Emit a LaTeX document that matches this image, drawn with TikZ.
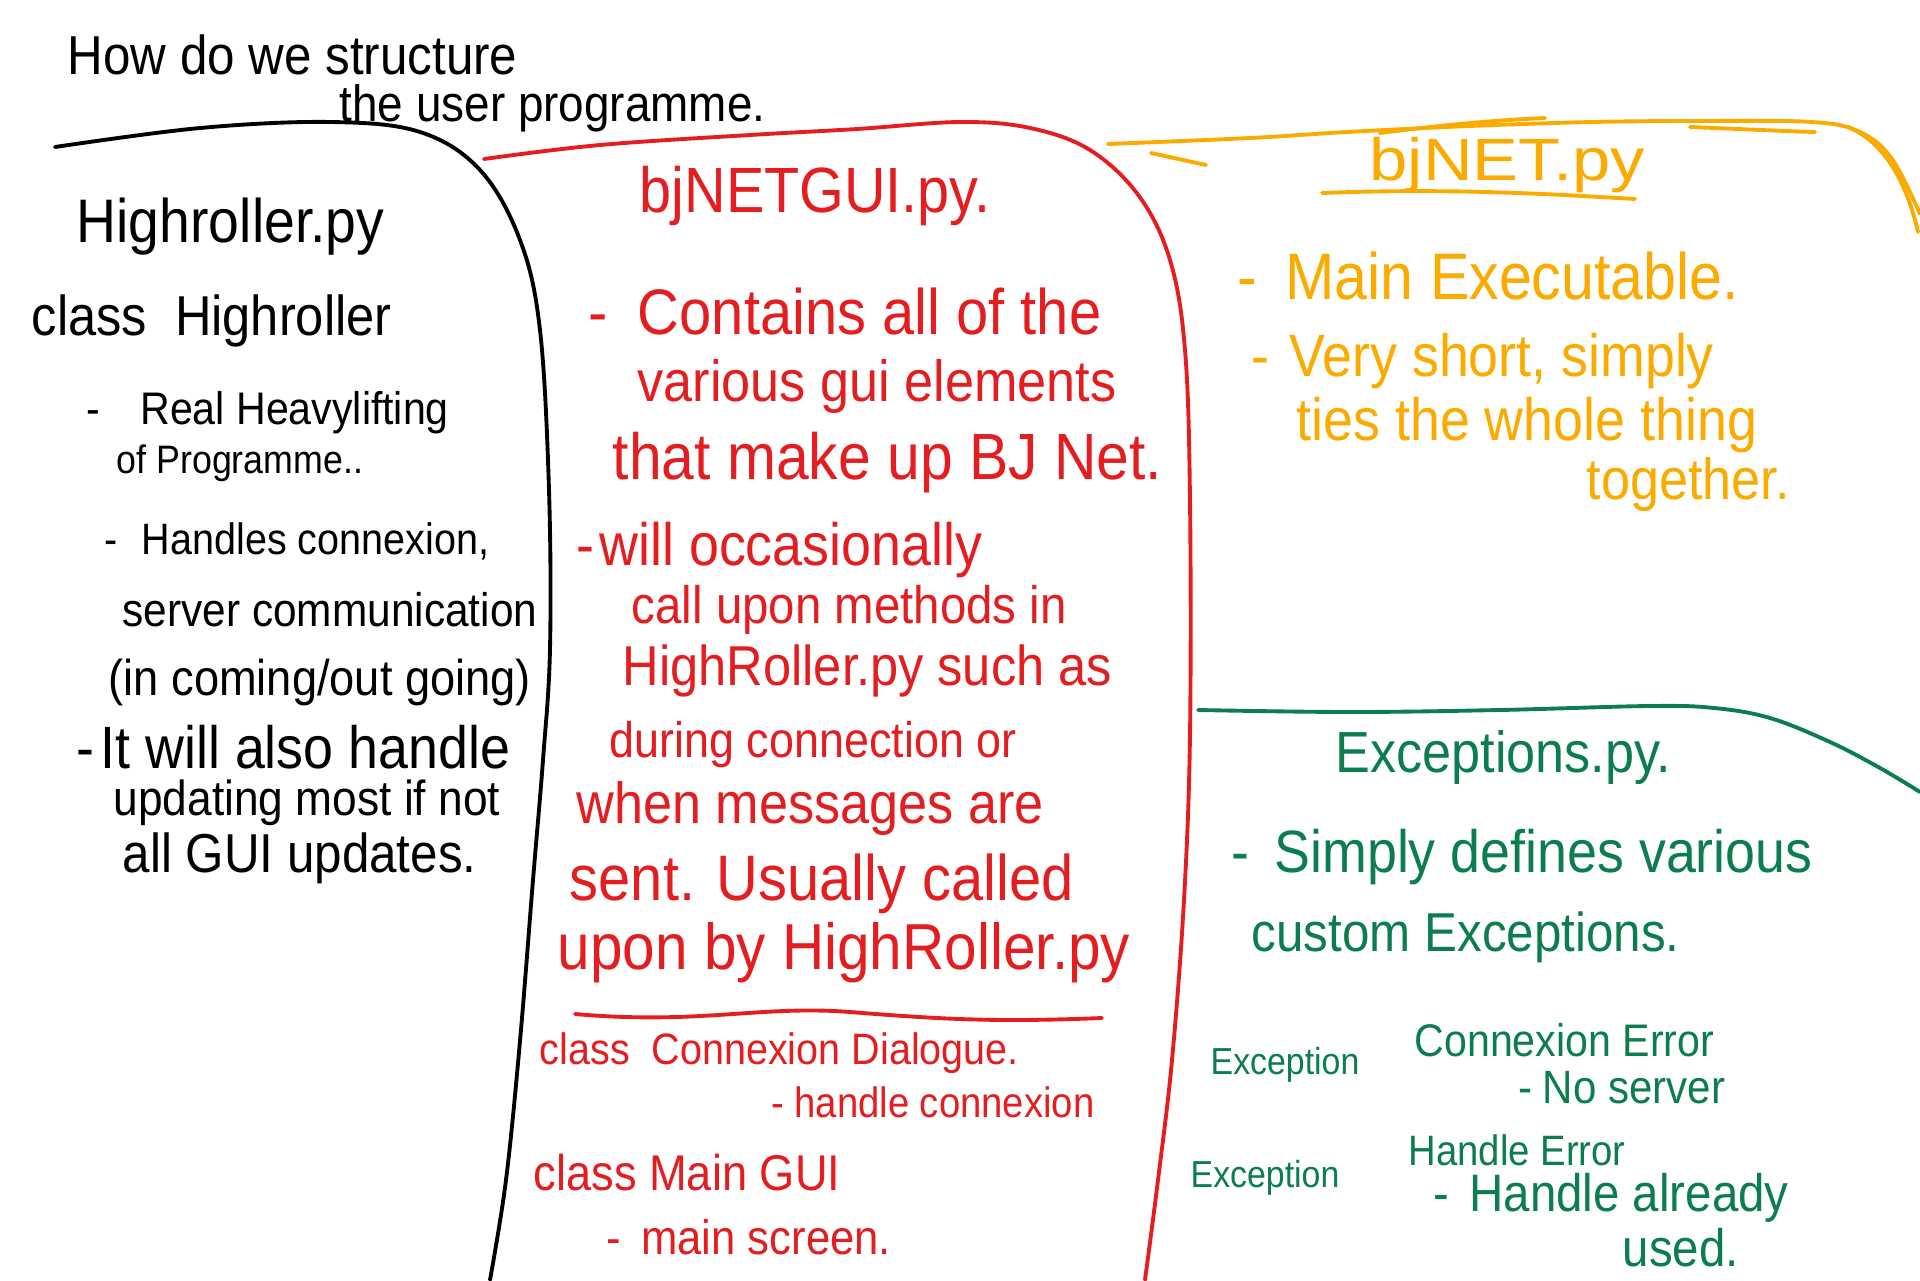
\documentclass[tikz,border=0pt]{standalone}
\usepackage{fontspec}
\setmainfont{Liberation Sans}[FakeStretch=0.9]
\newfontfamily\widehand{Liberation Sans}[FakeStretch=1.15]
\usepackage{xcolor}
\definecolor{penred}{HTML}{E41E20}
\definecolor{penorange}{HTML}{FBAA00}
\definecolor{pengreen}{HTML}{0B7D4E}

\begin{document}
\begin{tikzpicture}[
  x=0.1mm,y=-0.1mm,
  every node/.style={anchor=west,inner sep=0pt},
  hand/.style={font=\fontsize{#1}{#1}\selectfont},
  pen/.style={line width=1.1pt,line cap=round,line join=round}
]
\useasboundingbox (0,0) rectangle (1920,1280);

% title
\node[hand=15.6] (title) at (67,55) {How do we structure};
\node[hand=14.5] (titlb) at (339,108) {the user programme.};

% Highroller.py column
\draw[pen] plot[smooth,tension=0.6] coordinates {(55,147) (200,128) (331,122) (420,132) (480,170) (520,240) (540,330) (549,490) (550,649) (543,760) (533,880) (520,1041) (506,1180) (490,1280)};
\node[hand=17.5] (hrfile) at (76,227) {Highroller.py};
\node[hand=16] (hrclass) at (31,321) {class\enspace Highroller};
\node[hand=13] (hra) at (86,413) {-\hspace{4mm}Real Heavylifting};
\node[hand=11.3] (hrb) at (116,463) {of Programme..};
\node[hand=12.5] (hrc) at (104,541) {-\hspace{2.4mm}Handles connexion,};
\node[hand=13.4] (hrd) at (122,610) {server communication};
\node[hand=14.3] (hre) at (108,682) {(in coming/out going)};
\node[hand=17] (hrf) at (76,747) {-\hspace{0.6mm}It will also handle};
\node[hand=14] (hrg) at (113,803) {updating most if not};
\node[hand=15.6] (hrh) at (122,858) {all GUI updates.};

% bjNETGUI.py column
\draw[pen,penred] plot[smooth,tension=0.6] coordinates {(484,159) (600,145) (750,135) (857,129) (960,122) (1030,128) (1090,150) (1139,196) (1170,260) (1185,350) (1190,500) (1190,735) (1184,900) (1172,1060) (1158,1180) (1145,1280)};
\begin{scope}[text=penred]
\node[hand=18.2] (guifile) at (639,196) {bjNETGUI.py.};
\node[hand=18.3] (guia) at (588,312) {-\hspace{3mm}Contains all of the};
\node[hand=16.5] (guib) at (637,386) {various gui elements};
\node[hand=18.6] (guic) at (612,463) {that make up BJ Net.};
\node[hand=17] (guid) at (576,550) {-\hspace{0.5mm}will occasionally};
\node[hand=15] (guie) at (631,610) {call upon methods in};
\node[hand=16] (guif) at (622,671) {HighRoller.py such as};
\node[hand=14.2] (guig) at (609,745) {during connection or};
\node[hand=16.5] (guih) at (576,808) {when messages are};
\node[hand=18.3] (guii) at (569,884) {sent. Usually called};
\node[hand=18.5] (guij) at (557,953) {upon by HighRoller.py};
\node[hand=12.5] (connclass) at (539,1053) {class\enspace Connexion Dialogue.};
\node[hand=12.1] (connnote) at (771,1102) {-\hspace{1mm}handle connexion};
\node[hand=14.3] (mainclass) at (533,1173) {class Main GUI};
\node[hand=13.8] (mainnote) at (606,1237) {-\hspace{2mm}main screen.};
\end{scope}
\draw[pen,penred] (575,1014) .. controls (700,1025) and (760,1005) .. (850,1012) .. controls (950,1020) and (1000,1022) .. (1102,1018);

% bjNET.py
\draw[pen,penorange] plot[smooth,tension=0.6] coordinates {(1108,144) (1250,138) (1347,132) (1470,126) (1592,122) (1700,121) (1812,122) (1860,132) (1892,159) (1920,214)};
\draw[pen,penorange] (1151,153) -- (1206,165);
\draw[pen,penorange] (1380,133) .. controls (1450,124) and (1500,120) .. (1545,118);
\draw[pen,penorange] (1690,127) .. controls (1740,129) and (1780,131) .. (1815,132);
\draw[pen,penorange] (1848,127) .. controls (1880,140) and (1905,175) .. (1918,232);
\begin{scope}[text=penorange]
\node[hand=17,font=\widehand\fontsize{17}{17}\selectfont] (netfile) at (1369,165) {bjNET.py};
\node[hand=18.7] (neta) at (1237,276) {-\hspace{2.8mm}Main Executable.};
\node[hand=17] (netb) at (1251,361) {-\hspace{2mm}Very short, simply};
\node[hand=17] (netc) at (1296,425) {ties the whole thing};
\node[hand=16.5] (netd) at (1586,484) {together.};
\end{scope}
\draw[pen,penorange] (1322,193) .. controls (1450,188) and (1550,194) .. (1635,199);

% Exceptions.py
\draw[pen,pengreen] plot[smooth,tension=0.6] coordinates {(1198,710) (1350,712) (1500,710) (1650,706) (1714,708) (1770,718) (1830,742) (1880,768) (1920,792)};
\begin{scope}[text=pengreen]
\node[hand=16.5] (excfile) at (1335,757) {Exceptions.py.};
\node[hand=17] (exca) at (1231,857) {-\hspace{2.5mm}Simply defines various};
\node[hand=15.6] (excb) at (1251,937) {custom Exceptions.};
\node[hand=10.7] (conntag) at (1210,1065) {Exception};
\node[hand=13] (connerr) at (1414,1040) {Connexion Error};
\node[hand=13.3] (connwhy) at (1518,1088) {-\hspace{1mm}No server};
\node[hand=10.7] (handtag) at (1190,1178) {Exception};
\node[hand=12.1] (handerr) at (1408,1150) {Handle Error};
\node[hand=15] (handwhy) at (1433,1198) {-\hspace{2mm}Handle already};
\node[hand=15] (handwhyb) at (1622,1248) {used.};
\end{scope}
\end{tikzpicture}
\end{document}
